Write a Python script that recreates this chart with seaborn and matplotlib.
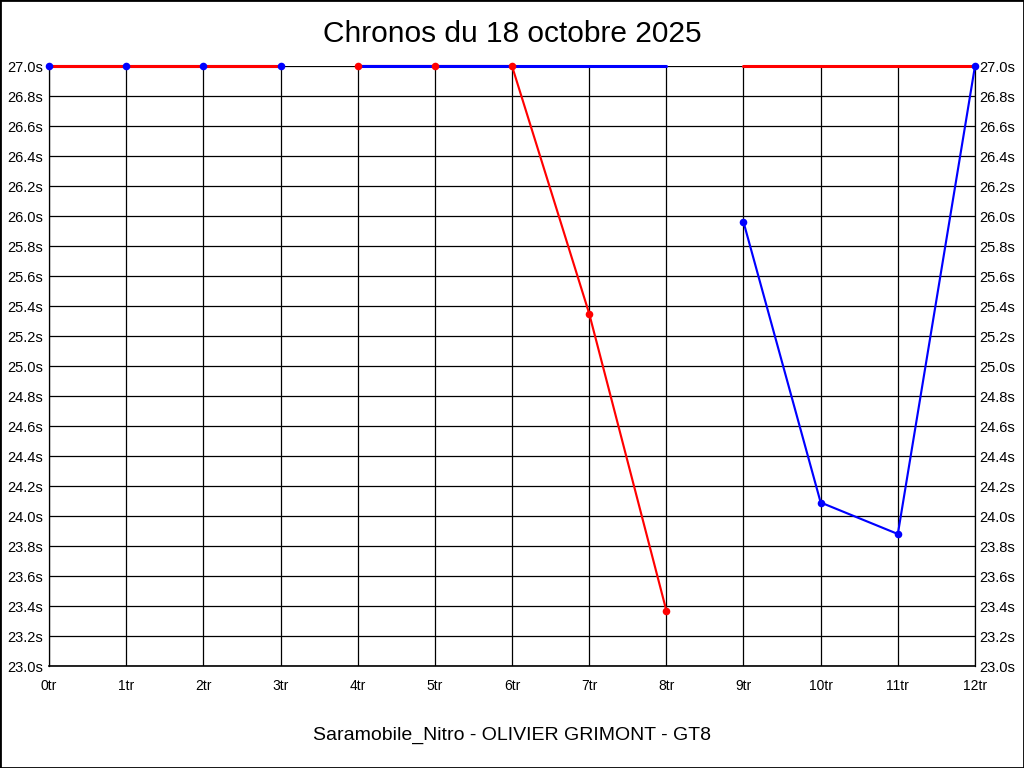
import matplotlib
matplotlib.use("Agg")
import matplotlib.pyplot as plt
import numpy as np
import pandas as pd
import seaborn as sns
from matplotlib.patches import Rectangle

# 数据：按段保存（每段单独连线）
red_laps_a = [0, 1, 2, 3]
red_times_a = [27.0, 27.0, 27.0, 27.0]
red_laps_b = [4, 5, 6, 7, 8]
red_times_b = [27.0, 27.0, 27.0, 25.35, 23.37]
red_laps_c = [9, 10, 11, 12]
red_times_c = [27.0, 27.0, 27.0, 27.0]

blue_laps_a = [0, 1, 2, 3]
blue_times_a = [27.0, 27.0, 27.0, 27.0]
blue_laps_b = [4, 5, 6, 7, 8]
blue_times_b = [27.0, 27.0, 27.0, 27.0, 27.0]
blue_laps_c = [9, 10, 11, 12]
blue_times_c = [25.96, 24.09, 23.88, 27.0]

x_ticks = list(range(13))
x_labels = [f"{i}tr" for i in x_ticks]
y_ticks = [round(23.0 + 0.2 * i, 1) for i in range(21)]
y_labels = [f"{v:.1f}s" for v in y_ticks]

title = "Chronos du 18 octobre 2025"
subtitle = "Saramobile_Nitro - OLIVIER GRIMONT - GT8"

sns.set_style("white")
plt.rcParams['font.family'] = ['Liberation Sans', 'DejaVu Sans']
plt.rcParams['text.color'] = 'black'
plt.rcParams['xtick.color'] = 'black'
plt.rcParams['ytick.color'] = 'black'

RED = "#ff0000"
BLUE = "#0000ff"

fig = plt.figure(figsize=(10.24, 7.68), dpi=100)
ax = fig.add_axes([49 / 1024, 1 - 666 / 768, 926 / 1024, 600 / 768])

lw = 2.2
# 线段（27.0s 在上边界，不裁剪）
segs = [(blue_laps_a, blue_times_a, BLUE, lw, 3),
        (red_laps_a, red_times_a, RED, lw, 4),
        (red_laps_b, red_times_b, RED, lw * 0.7, 3),
        (blue_laps_b, blue_times_b, BLUE, lw, 4),
        (red_laps_c, red_times_c, RED, lw, 3),
        (blue_laps_c, blue_times_c, BLUE, lw * 0.7, 4)]
for xs, ys, c, w, z in segs:
    sns.lineplot(x=xs, y=ys, ax=ax, color=c, linewidth=w, zorder=z, clip_on=False)

# 标记点
for xs, ys, c in [(blue_laps_a, blue_times_a, BLUE),
                  (red_laps_b, red_times_b, RED),
                  (blue_laps_c, blue_times_c, BLUE)]:
    sns.scatterplot(x=xs, y=ys, ax=ax, color=c, s=30, edgecolor=c,
                    linewidth=0, zorder=6, clip_on=False)

ax.set_xlim(0, 12)
ax.set_ylim(23.0, 27.0)
ax.set_xticks(x_ticks)
ax.set_xticklabels(x_labels, fontsize=10)
ax.set_yticks(y_ticks)
ax.set_yticklabels(y_labels, fontsize=10.5)
ax.tick_params(axis='both', length=0, pad=4)
ax.tick_params(axis='x', pad=9)
ax.grid(True, color='black', lw=0.9)
for side, s in ax.spines.items():
    s.set_visible(side != 'top')
    s.set_color('black')
    s.set_linewidth(0.9)
ax.spines['bottom'].set_linewidth(1.2)
ax.set_xlabel("")
ax.set_ylabel("")

ax2 = ax.twinx()
ax2.set_ylim(23.0, 27.0)
ax2.set_yticks(y_ticks)
ax2.set_yticklabels(y_labels, fontsize=10.5)
ax2.tick_params(axis='y', length=0, pad=3)
for s in ax2.spines.values():
    s.set_visible(False)
ax.set_zorder(ax2.get_zorder() + 1)
ax.patch.set_visible(False)

fig.text(0.5, 1 - 34 / 768, title, ha='center', va='center', fontsize=21.5)
fig.text(0.5, 1 - 735 / 768, subtitle, ha='center', va='center', fontsize=14)

fig.patches.append(Rectangle((0, 0), 1, 1, transform=fig.transFigure,
                             fill=False, edgecolor='black', lw=2))

fig.savefig("out.png", dpi=100)
